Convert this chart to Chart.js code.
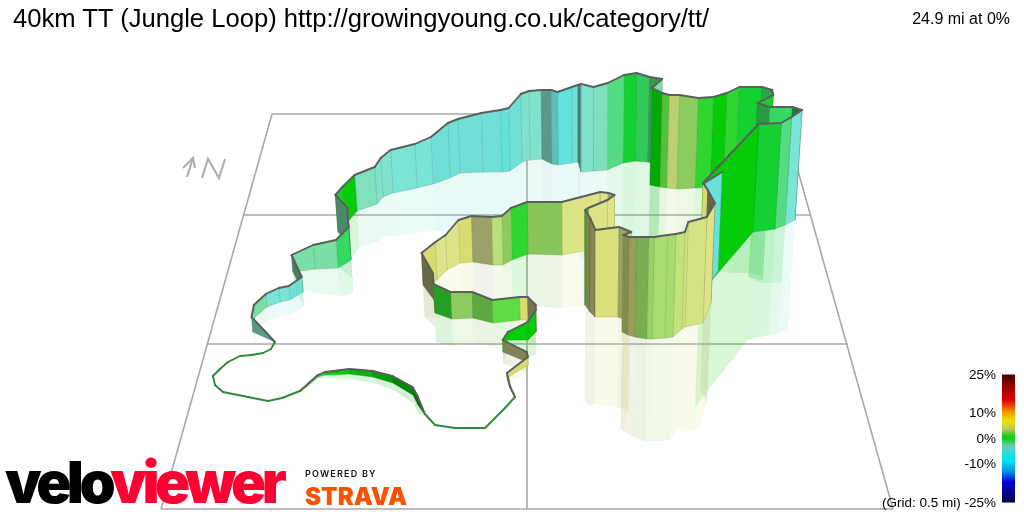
<!DOCTYPE html>
<html><head><meta charset="utf-8">
<style>
html,body{margin:0;padding:0;background:#fff;width:1024px;height:512px;overflow:hidden}
#wrap{position:relative;width:1024px;height:512px;font-family:"Liberation Sans",Arial,sans-serif}
canvas{position:absolute;left:0;top:0}
.t{position:absolute;white-space:nowrap;line-height:1;color:#000}
</style>
<script src="https://cdn.jsdelivr.net/npm/chart.js@4"></script>
</head><body><div id="wrap">
<canvas id="c" width="1024" height="512"></canvas>
<div class="t" id="title" style="left:13px;top:6px;font-size:25.6px"></div>
<div class="t" id="summary" style="right:14px;top:11px;font-size:16px"></div>
<div id="ticks"></div>
<div class="t" style="left:5px;top:447px;font:900 58px Inter,sans-serif;letter-spacing:-4.5px"><span id="l1"></span><span id="l2" style="color:#ff0033"></span></div>
<div class="t" id="pb" style="left:305px;top:468px;font:600 9px Inter,sans-serif;letter-spacing:1.2px;color:#111"></div>
<div class="t" id="st" style="left:305px;top:482px;font:900 24px Inter,sans-serif;letter-spacing:.1px;color:#fc5200"></div>
</div>
<script>
const titleText="40km TT (Jungle Loop) http://growingyoung.co.uk/category/tt/";
const summaryText="24.9 mi at 0%";
const colorbarTicks=[25,10,0,-10];
const gridNote="(Grid: 0.5 mi) -25%";

const routeX=[275,253,255,267,280,290,303,293,315,338,351,350,350,338,345,357,377,383,393,417,433,450,460,483,502,510,522,530,542,552,558,572,578,581,593,607,623,635,648,660,650,660,667,677,695,710,723,735,757,767,768,753,765,787,795,785,775,753,699,704,711,703,685,682,673,665,652,647,635,628,622,630,618,595,590,585,588,607,614,608,600,562,528,512,503,493,473,460,447,437,423,434,435,452,473,493,520,528,536,536,528,508,503,527,528,507,510,515,505,495,485,455,435,425,418,413,393,373,350,325,318,300,282,268,243,223,215,213,220,228,240,252,263,271,275,702,718];
const routeY=[342,332,317,307,302,300,292,272,269,268,260,250,243,232,225,211,204,197,193,188,184,178,173,172,172,171,162,160,159,164,165,163,162,172,171,170,163,161,162,168,185,187,188,189,188,187,182,180,180,183,188,190,195,195,220,225,229,232,295,290,303,323,327,329,337,338,339,339,337,335,332,322,317,317,312,305,290,270,250,248,248,255,254,260,265,265,262,263,270,280,285,300,313,319,318,323,320,320,325,332,340,340,352,362,365,378,388,398,408,418,428,428,425,415,405,395,383,377,374,375,377,392,398,401,396,392,385,376,369,362,356,355,353,349,342,293,271];
const routeElev=[0,15,12,13,14,14,15,17,24,28,33,35,35,37,38,36,37,39,43,44,47,55,54,59,62,63,68,69,69,74,73,76,77,88,84,87,88,88,85,89,97,94,93,94,90,90,89,93,93,93,93,87,88,88,110,108,106,108,112,100,100,106,105,97,103,103,102,102,100,98,97,90,90,87,94,95,82,70,55,55,56,53,52,52,49,48,46,43,35,38,32,27,29,27,26,23,23,23,20,22,18,8,12,10,8,5,2,1,0,0,0,0,0,1,9,8,7,6,5,3,2,1,0,0,0,0,0,0,0,0,0,0,0,0,0,111,99];
const routeGrade=[-6,-5,-4,-8,-8,-9,-5,-4,-4,-2,-1,-5,-5,-1,0,-6,-7,-7,-8,-8,-9,-9,-9,-9,-10,-9,-7,-7,-7,-9,-10,-9,-8,-7,-6,-3,-1,-2,-3,-4,0,2,5,3,1,0,1,-1,-2,-1,-1,-2,-2,-2,-8,-3,-1,0,7,8,6,5.5,5,4.5,3.5,3.5,3.2,3,7.5,7.5,6,6,6.5,6,6,0,6,6,6,6,6,3,1,3,4,8,7,6,6,7,8,7,1,3,2.5,2,7,8,6,0,0,0,8,7,7,8,8,1,0,0,0,0,0,0,0,0,0,0,0,1,1,1,1,0,0,0,0,0,0,0,0,0,0,0,null,-9.5,null];

const gridLinesX=[[272,161],[782,893],[527,527],[272,782],[244,810],[207,848],[161,893]];
const gridLinesY=[[114,509],[114,509],[114,509],[114,114],[215,215],[344,344],[509,509]];
const northX=[[187,193],[183,193,195],[202,208,219,225]];
const northY=[[177,158],[168,158,168],[178,159,178,159]];

const gradeStops=[-10,-9,-8,-7,-6,-5,-4,-3,-2,-1,0,1,2,3,3.5,4,5,6,7,8];
const gradeColors=['#62e2da','#70e0d6','#7ae4d6','#80e2cc','#80e0bc','#80e0b0','#7adfa4','#55dc80','#35d860','#14d030','#04cc08','#30d630','#60dc44','#8ccb60','#a8dc70','#b8e078','#cce47e','#dde488','#d8dc70','#b4b878'];
const barStops=[-25,-21,-17,-13,-9,-6,-3,0,1,4,7,10,15,20,25];
const barColors=['#000040','#000090','#0000e0','#0090e0','#00e0f0','#20e0e0','#70c8b8','#10d010','#20c820','#c8c860','#f0e000','#f0a000','#e00000','#a00000','#400000'];

const lean=0.0003, leanCentre=580;
function hex(c){return [1,3,5].map(i=>parseInt(c.slice(i,i+2),16));}
function gradeRGB(g){
  if(g<=gradeStops[0])return hex(gradeColors[0]);
  for(let i=1;i<gradeStops.length;i++){
    if(g<=gradeStops[i]){const f=(g-gradeStops[i-1])/(gradeStops[i]-gradeStops[i-1]);
      const a=hex(gradeColors[i-1]),b=hex(gradeColors[i]);return a.map((v,k)=>v+(b[k]-v)*f);}
  }
  return hex(gradeColors[gradeColors.length-1]);
}
function shade(i){
  let dx=routeX[i+1]-routeX[i],dy=routeY[i+1]-routeY[i];
  if(dx<0){dx=-dx;dy=-dy;}
  const a=Math.atan2(2*dy,dx);
  return a>0?1-0.45*Math.sin(a):1;
}
const rgba=(c,f,al)=>`rgba(${c.map(v=>Math.round(v*f)).join(',')},${al})`;
const reflections=[],walls=[];
function off(i,sign){return routeX[i]+sign*routeElev[i]*(routeX[i]-leanCentre)*lean;}
for(let i=0;i<routeX.length-1;i++){
  if(routeGrade[i]===null)continue;
  const j=i+1,c=gradeRGB(routeGrade[i]),s=shade(i);
  const g0={x:routeX[i],y:routeY[i]},g1={x:routeX[j],y:routeY[j]};
  const t0={x:off(i,1),y:routeY[i]-routeElev[i]},t1={x:off(j,1),y:routeY[j]-routeElev[j]};
  const r0={x:off(i,-1),y:routeY[i]+routeElev[i]},r1={x:off(j,-1),y:routeY[j]+routeElev[j]};
  const depth=(routeY[i]+routeY[j])/2;
  const flat=routeElev[i]+routeElev[j]<3;
  const hiddenJump=Math.abs(routeElev[i]-routeElev[j])>=12;
  if(!flat&&!hiddenJump)reflections.push({depth,ds:{data:[g0,g1,r1,r0],fill:'shape',backgroundColor:rgba(c,(1+s)/2,0.16),borderWidth:0,pointRadius:0,showLine:true}});
  const parts=[];
  if(!flat)parts.push({data:[g0,g1,t1,t0,g0],fill:'shape',backgroundColor:rgba(c,s,1),borderColor:rgba(c,s*0.8,0.55),borderWidth:0.8,pointRadius:0,showLine:true});
  parts.push({data:[t0,t1],fill:false,borderColor:flat?'#2f8a3c':'#5a5f5c',borderWidth:1.9,pointRadius:0,showLine:true,borderCapStyle:'round'});
  walls.push({depth,parts});
}
reflections.sort((a,b)=>a.depth-b.depth);
walls.sort((a,b)=>a.depth-b.depth);
const back=[];
gridLinesX.forEach((xs,k)=>back.push({data:xs.map((x,n)=>({x,y:gridLinesY[k][n]})),borderColor:'#a8a8a8',borderWidth:1.6,pointRadius:0,showLine:true,fill:false}));
northX.forEach((xs,k)=>back.push({data:xs.map((x,n)=>({x,y:northY[k][n]})),borderColor:'#b0b0b0',borderWidth:2.2,pointRadius:0,showLine:true,fill:false}));
reflections.forEach(r=>back.push(r.ds));
walls.forEach(w=>w.parts.forEach(p=>back.push(p)));
const barDataset={yAxisID:'yBar',data:[{x:1008.5,y:-25},{x:1008.5,y:25}],fill:false,pointRadius:0,showLine:true,borderWidth:13,borderCapStyle:'butt',borderColor:'#000'};
back.push(barDataset);
const barPaint={id:'barPaint',beforeDatasetsDraw(ch){
  const sc=ch.scales.yBar,g=ch.ctx.createLinearGradient(0,sc.getPixelForValue(-25),0,sc.getPixelForValue(25));
  barStops.forEach((v,i)=>g.addColorStop((v+25)/50,barColors[i]));
  ch.getDatasetMeta(0).dataset.options.borderColor=g;
}};
new Chart(document.getElementById('c'),{type:'scatter',plugins:[barPaint],data:{datasets:back.reverse()},options:{
  responsive:false,animation:false,devicePixelRatio:1,events:[],layout:{padding:0},
  plugins:{legend:{display:false},tooltip:{enabled:false},title:{display:false}},
  scales:{x:{type:'linear',min:0,max:1024,display:false},y:{type:'linear',min:0,max:512,reverse:true,display:false},
    yBar:{type:'linear',min:-28.71,max:171.29,display:false}}}});
document.getElementById('title').textContent=titleText;
document.getElementById('summary').textContent=summaryText;
const tk=document.getElementById('ticks');
colorbarTicks.forEach(v=>{const d=document.createElement('div');d.className='t';d.style.cssText=`right:28px;font-size:13.5px;top:${438.5-v*2.56-7}px`;d.textContent=v+'%';tk.appendChild(d);});
const n=document.createElement('div');n.className='t';n.style.cssText='right:28px;font-size:13.5px;top:496px';n.textContent=gridNote;tk.appendChild(n);
document.getElementById('l1').textContent='velo';document.getElementById('l2').textContent='viewer';
document.getElementById('pb').textContent='POWERED BY';document.getElementById('st').textContent='STRAVA';
</script></body></html>
